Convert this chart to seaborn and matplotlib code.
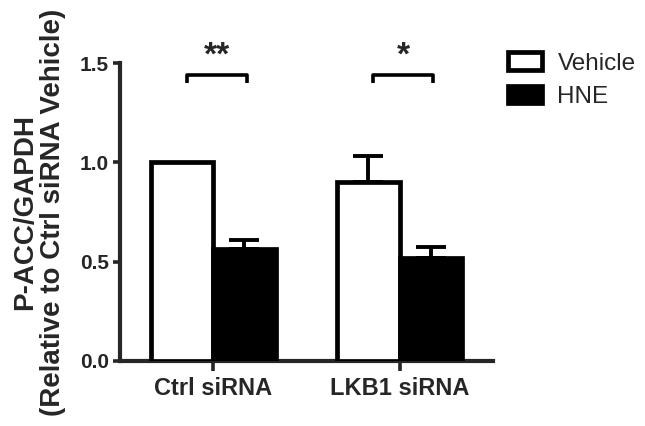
import matplotlib
matplotlib.use("Agg")
import matplotlib.pyplot as plt
import matplotlib.patches as mpatches
import pandas as pd
import seaborn as sns

# values
groups = ["Ctrl siRNA", "LKB1 siRNA"]
treatments = ["Vehicle", "HNE"]
means = {"Vehicle": [1.00, 0.90], "HNE": [0.565, 0.52]}
sems = {"Vehicle": [0.0, 0.13], "HNE": [0.045, 0.055]}
stars = ["**", "*"]
y_ticks = [0.0, 0.5, 1.0, 1.5]


def build_frame():
    rows = []
    for t in treatments:
        for g, m, s in zip(groups, means[t], sems[t]):
            rows.append({"group": g, "treatment": t, "value": m, "sem": s})
    return pd.DataFrame(rows)


def main():
    sns.set_style("ticks")
    plt.rcParams["font.family"] = ["Liberation Sans", "DejaVu Sans"]
    df = build_frame()

    fig = plt.figure(figsize=(6.45, 4.26), dpi=100)
    ax = fig.add_axes([0.186, 0.153, 0.578, 0.699])

    colors = {"Vehicle": "white", "HNE": "black"}
    sns.barplot(data=df, x="group", y="value", hue="treatment",
                hue_order=treatments, order=groups, palette=colors,
                edgecolor="black", linewidth=3.4, width=0.67,
                errorbar=None, legend=False, ax=ax, zorder=3)

    # upward-only error bars
    for t, cont in zip(treatments, ax.containers):
        for bar, s in zip(cont.patches, sems[t]):
            if s <= 0:
                continue
            xc = bar.get_x() + bar.get_width() / 2
            top = bar.get_height()
            ax.errorbar(xc, top, yerr=[[0], [s]], fmt="none",
                        ecolor="black", elinewidth=2.8, capsize=11,
                        capthick=2.8, zorder=2)

    # significance brackets
    for i, st in enumerate(stars):
        x0, x1 = i - 0.14, i + 0.18
        ax.plot([x0, x0, x1, x1], [1.40, 1.44, 1.44, 1.40], color="black",
                lw=2.6, clip_on=False, solid_capstyle="butt")
        ax.text((x0 + x1) / 2, 1.455, st, ha="center", va="bottom",
                fontsize=24, fontweight="bold", clip_on=False)

    ax.set_xlim(-0.5, 1.5)
    ax.set_ylim(0, 1.5)
    ax.set_yticks(y_ticks)
    ax.set_yticklabels([f"{v:.1f}" for v in y_ticks])
    ax.set_xlabel("")
    ax.set_ylabel("P-ACC/GAPDH\n(Relative to Ctrl siRNA Vehicle)",
                  fontsize=20, fontweight="bold", labelpad=10,
                  linespacing=1.1)
    sns.despine(ax=ax)
    for side in ["left", "bottom"]:
        ax.spines[side].set_linewidth(3)
    ax.tick_params(axis="y", labelsize=15, width=2.6, length=5, pad=3)
    ax.tick_params(axis="x", labelsize=17, width=2.6, length=7, pad=5)
    for lab in ax.get_xticklabels() + ax.get_yticklabels():
        lab.set_fontweight("bold")

    handles = [mpatches.Patch(facecolor=colors[t], edgecolor="black",
                              linewidth=3.4, label=t) for t in treatments]
    fig.legend(handles=handles, loc="upper left",
               bbox_to_anchor=(0.772, 0.9), frameon=False, fontsize=17.5,
               handlelength=1.4, handleheight=0.75, handletextpad=0.65,
               labelspacing=0.45, borderaxespad=0)

    fig.savefig("out.png", dpi=100)


if __name__ == "__main__":
    main()
